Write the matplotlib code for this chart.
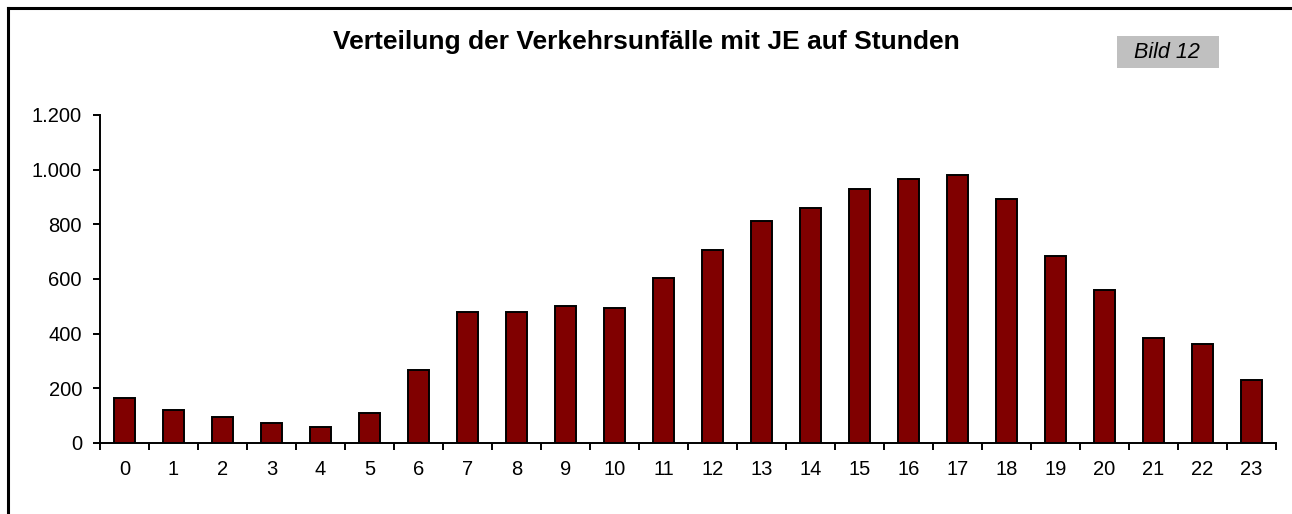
import matplotlib
matplotlib.use("Agg")
import matplotlib.pyplot as plt
from matplotlib.lines import Line2D
from matplotlib.patches import Rectangle
from matplotlib.ticker import FuncFormatter, MultipleLocator

hours = [str(h) for h in range(24)]
unfaelle = [166, 122, 94, 72, 57, 108, 268, 479, 479, 501, 494, 602,
            705, 814, 858, 930, 967, 981, 894, 684, 560, 385, 363, 232]
title = "Verteilung der Verkehrsunfälle mit JE auf Stunden"
bild = "Bild 12"

plt.rcParams['font.family'] = ['Liberation Sans', 'DejaVu Sans']

W, H = 1292, 514
fig = plt.figure(figsize=(W / 100, H / 100), dpi=100)
fig.patch.set_facecolor('white')

ax = fig.add_axes([100 / W, (H - 443) / H, 1176 / W, 328 / H])
x = list(range(len(hours)))
ax.bar(x, unfaelle, width=0.42, color='#800000', edgecolor='black', linewidth=1.4, zorder=3)

ax.set_xlim(-0.5, len(hours) - 0.5)
ax.set_ylim(0, 1200)
ax.yaxis.set_major_locator(MultipleLocator(200))
ax.yaxis.set_major_formatter(FuncFormatter(lambda v, p: f"{int(v):,}".replace(",", ".")))
ax.set_xticks(x)
ax.set_xticklabels(hours)
ax.set_xticks([i - 0.5 for i in range(len(hours) + 1)], minor=True)
ax.tick_params(axis='x', which='major', length=0, pad=12, labelsize=14.5)
ax.tick_params(axis='x', which='minor', length=5, width=1.4, direction='out')
ax.tick_params(axis='y', which='major', length=5, width=1.4, direction='out', pad=8, labelsize=14.5)

for s in ['top', 'right']:
    ax.spines[s].set_visible(False)
for s in ['left', 'bottom']:
    ax.spines[s].set_linewidth(1.4)
    ax.spines[s].set_color('black')

fig.text(646 / W, 1 - 42 / H, title, ha='center', va='center', fontsize=19, fontweight='bold')

fig.patches.append(Rectangle((1117 / W, 1 - 68 / H), 102 / W, 32 / H,
                             transform=fig.transFigure, facecolor='#C0C0C0', edgecolor='none'))
fig.text(1167 / W, 1 - 52 / H, bild, ha='center', va='center', fontsize=15.5, style='italic')

# outer chart frame
fig.lines.append(Line2D([7.5 / W, 7.5 / W], [0, 1 - 8 / H], transform=fig.transFigure, color='black', linewidth=2.2))
fig.lines.append(Line2D([7.5 / W, 1], [1 - 8 / H, 1 - 8 / H], transform=fig.transFigure, color='black', linewidth=2.2))

fig.savefig('out.png', dpi=100)
